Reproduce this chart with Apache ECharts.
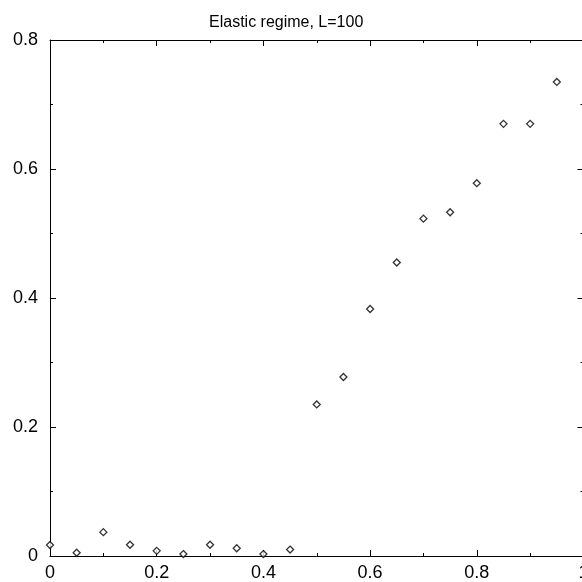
<!DOCTYPE html>
<html><head><meta charset="utf-8">
<script src="https://cdn.jsdelivr.net/npm/echarts@6/dist/echarts.min.js"></script>
<style>html,body{margin:0;padding:0;background:#fff}#c{width:582px;height:582px}</style>
</head><body><div id="c"></div>
<script>
const titleText = "Elastic regime, L=100";
const xValues = [0, 0.05, 0.1, 0.15, 0.2, 0.25, 0.3, 0.35, 0.4, 0.45, 0.5, 0.55, 0.6, 0.65, 0.7, 0.75, 0.8, 0.85, 0.9, 0.95];
const yValues = [0.017, 0.005, 0.037, 0.0175, 0.008, 0.003, 0.0175, 0.012, 0.003, 0.010, 0.235, 0.2775, 0.383, 0.455, 0.523, 0.533, 0.578, 0.670, 0.670, 0.735];
const points = xValues.map((x, i) => [x, yValues[i]]);

const font = "Liberation Sans, Arial, Helvetica, sans-serif";
const chart = echarts.init(document.getElementById('c'), null, {renderer: 'canvas'});
const lineStyle = {color: '#000', width: 1};
chart.setOption({
  animation: false,
  backgroundColor: '#fff',
  title: {text: titleText, left: 204, top: 10, textStyle: {fontFamily: font, fontSize: 16, fontWeight: 'normal', color: '#000'}},
  grid: {left: 50, top: 40, width: 533.5, height: 516, outerBoundsMode: 'none', containLabel: false},
  xAxis: [{
    type: 'value', min: 0, max: 1, interval: 0.2, position: 'bottom',
    axisLine: {show: true, onZero: false, lineStyle},
    axisTick: {show: true, inside: true, length: 6, lineStyle},
    minorTick: {show: true, splitNumber: 2, length: 3, lineStyle},
    splitLine: {show: false},
    axisLabel: {margin: 8, fontFamily: font, fontSize: 18, color: '#000', formatter: v => String(+v.toFixed(1))}
  }, {
    type: 'value', min: 0, max: 1, interval: 0.2, position: 'top',
    axisLine: {show: true, onZero: false, lineStyle},
    axisTick: {show: true, inside: true, length: 6, lineStyle},
    minorTick: {show: true, splitNumber: 2, length: 3, lineStyle},
    splitLine: {show: false}, axisLabel: {show: false}
  }],
  yAxis: [{
    type: 'value', min: 0, max: 0.8, interval: 0.2, position: 'left',
    axisLine: {show: true, onZero: false, lineStyle},
    axisTick: {show: true, inside: true, length: 6, lineStyle},
    minorTick: {show: true, splitNumber: 2, length: 3, lineStyle},
    splitLine: {show: false},
    axisLabel: {margin: 12, fontFamily: font, fontSize: 18, color: '#000', formatter: v => String(+v.toFixed(1))}
  }, {
    type: 'value', min: 0, max: 0.8, interval: 0.2, position: 'right',
    axisLine: {show: true, onZero: false, lineStyle},
    axisTick: {show: true, inside: true, length: 6, lineStyle},
    minorTick: {show: true, splitNumber: 2, length: 3, lineStyle},
    splitLine: {show: false}, axisLabel: {show: false}
  }],
  series: [{
    type: 'scatter', xAxisIndex: 0, yAxisIndex: 0, data: points,
    symbol: 'diamond', symbolSize: 7,
    itemStyle: {color: '#fff', borderColor: '#000', borderWidth: 1.3},
    clip: false
  }]
});
</script></body></html>
